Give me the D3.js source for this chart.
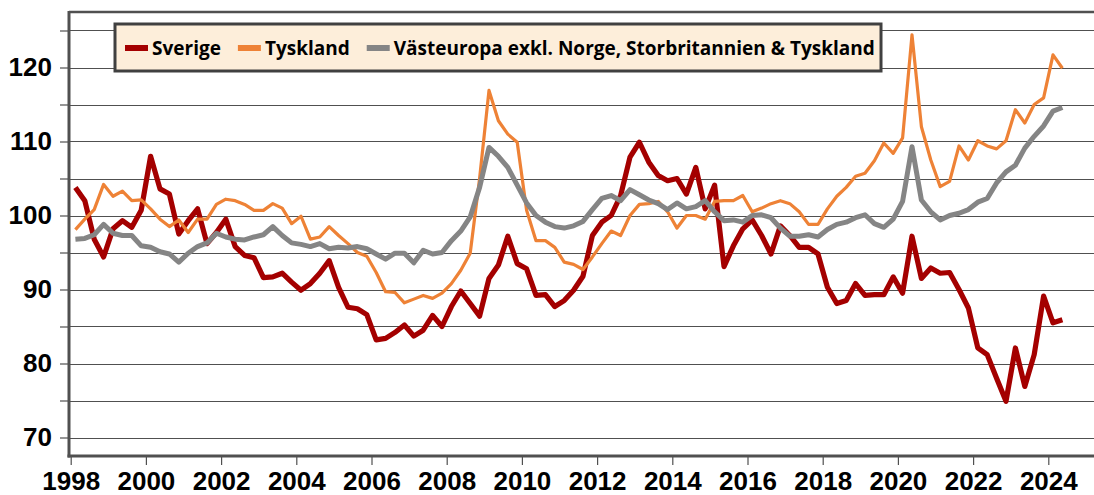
<!doctype html>
<html>

<head>
  <meta charset="UTF-8" />
  <title>Index</title>
  <style>
    html,
    body {
      margin: 0;
      background: #fff;
    }

    svg {
      font-family: "Open Sans", sans-serif;
      font-weight: bold;
    }

    .grid line {
      stroke: #505050;
      stroke-width: 1.2px;
    }

    .axis text {
      font-size: 26px;
      font-weight: bold;
      fill: #000;
    }

    .axis .tick line {
      stroke: #505050;
      stroke-width: 1.2px;
    }

    .series {
      fill: none;
      stroke-linejoin: round;
      stroke-linecap: butt;
    }

    .legend text {
      font-size: 19px;
      fill: #000;
      dominant-baseline: central;
    }
  </style>
</head>

<body>
  <script src="https://d3js.org/d3.v7.min.js"></script>
  <script>
    // data: quarterly, 1998 Q1 - 2024 Q2
    const firstYear = 1998;

    const sverige = [
      103.8, 102.0, 96.8, 94.4, 98.2, 99.3, 98.4, 100.7, 108.0, 103.6, 102.9, 97.5, 99.3, 100.9, 96.2, 97.7,
      99.5, 95.8, 94.6, 94.3, 91.6, 91.7, 92.2, 91.0, 89.9, 90.8, 92.2, 93.9, 90.3, 87.6, 87.4, 86.6,
      83.2, 83.4, 84.2, 85.2, 83.7, 84.5, 86.5, 85.0, 87.7, 89.8, 88.1, 86.4, 91.5, 93.3, 97.2, 93.5,
      92.8, 89.2, 89.3, 87.7, 88.5, 89.9, 91.8, 97.3, 99.1, 100.0, 102.7, 107.9, 109.9, 107.2, 105.4, 104.7,
      105.0, 102.9, 106.5, 100.9, 104.1, 93.1, 95.9, 98.2, 99.4, 97.3, 94.8, 98.6, 97.3, 95.7, 95.7, 94.8,
      90.3, 88.1, 88.5, 90.8, 89.2, 89.3, 89.3, 91.7, 89.5, 97.2, 91.5, 92.9, 92.2, 92.3, 90.0, 87.5,
      82.1, 81.2, 78.0, 74.9, 82.1, 76.9, 81.2, 89.1, 85.5, 85.9
    ];

    const tyskland = [
      98.1, 99.5, 100.8, 104.2, 102.6, 103.3, 102.0, 102.1, 100.9, 99.5, 98.5, 99.4, 97.7, 99.5, 99.5, 101.5,
      102.2, 102.0, 101.5, 100.7, 100.7, 101.6, 101.0, 98.9, 99.9, 96.8, 97.1, 98.5, 97.3, 96.2, 95.0, 94.5,
      92.3, 89.7, 89.6, 88.2, 88.7, 89.2, 88.8, 89.5, 90.8, 92.6, 94.9, 105.0, 116.9, 112.8, 111.0, 109.9,
      100.7, 96.6, 96.6, 95.7, 93.7, 93.4, 92.7, 94.4, 96.2, 97.9, 97.3, 100.0, 101.5, 101.6, 101.9, 100.5,
      98.3, 100.0, 100.0, 99.5, 101.9, 102.0, 102.0, 102.7, 100.5, 101.0, 101.6, 102.0, 101.6, 100.5, 98.8, 98.8,
      100.9, 102.6, 103.8, 105.3, 105.7, 107.4, 109.8, 108.4, 110.5, 124.4, 112.0, 107.5, 103.9, 104.6, 109.4, 107.5,
      110.1, 109.4, 109.0, 110.1, 114.3, 112.5, 115.0, 115.9, 121.7, 119.9
    ];

    const vasteuropa = [
      96.8, 96.9, 97.4, 98.8, 97.6, 97.3, 97.3, 95.9, 95.7, 95.1, 94.8, 93.7, 94.9, 95.8, 96.3, 97.6,
      97.1, 96.8, 96.7, 97.1, 97.4, 98.5, 97.3, 96.3, 96.1, 95.8, 96.2, 95.5, 95.7, 95.6, 95.8, 95.5,
      94.8, 94.1, 94.9, 94.9, 93.6, 95.3, 94.8, 95.0, 96.6, 97.9, 99.8, 103.8, 109.2, 108.0, 106.5, 104.1,
      101.7, 100.0, 99.1, 98.5, 98.3, 98.6, 99.2, 100.8, 102.3, 102.7, 102.0, 103.5, 102.8, 102.1, 101.6, 100.8,
      101.7, 100.9, 101.2, 102.0, 100.5, 99.3, 99.4, 99.1, 100.0, 100.1, 99.7, 98.3, 97.2, 97.2, 97.4, 97.1,
      98.1, 98.8, 99.1, 99.7, 100.1, 98.9, 98.4, 99.5, 101.9, 109.3, 102.1, 100.5, 99.4, 100.0, 100.3, 100.8,
      101.8, 102.3, 104.4, 105.9, 106.8, 109.1, 110.7, 112.1, 114.1, 114.6
    ];

    const seriesNames = ['Sverige', 'Tyskland', 'Västeuropa exkl. Norge, Storbritannien & Tyskland'];
    const seriesColors = ['#a40000', '#ee8236', '#858585'];
    const seriesWidths = [5.2, 3.2, 5];
    const yTicks = [70, 75, 80, 85, 90, 95, 100, 105, 110, 115, 120, 125];
    const xTicks = [1998, 2000, 2002, 2004, 2006, 2008, 2010, 2012, 2014, 2016, 2018, 2020, 2022, 2024];

    // quarter midpoints as decimal years
    const quarters = sverige.map((_, i) => firstYear + Math.floor(i / 4) + (i % 4) * 0.25 + 0.125);

    // view
    const width = 1094,
      height = 495,
      plotLeft = 69,
      plotTop = 12,
      plotBottom = 456;

    const x = d3.scaleLinear()
      .domain([1998, 2026])
      .range([70.7, 70.7 + 28 * 37.6]);

    const y = d3.scaleLinear()
      .domain([67.5, 127.5])
      .range([plotBottom, plotTop]);

    const svg = d3.select('body').append('svg')
      .attr('width', width)
      .attr('height', height);

    // gridlines
    svg.append('g').attr('class', 'grid')
      .selectAll('line')
      .data(yTicks)
      .join('line')
      .attr('x1', plotLeft)
      .attr('x2', width)
      .attr('y1', d => Math.round(y(d)) + 0.5)
      .attr('y2', d => Math.round(y(d)) + 0.5);

    // top border
    svg.append('line')
      .attr('x1', plotLeft).attr('x2', width)
      .attr('y1', plotTop).attr('y2', plotTop)
      .attr('stroke', '#505050')
      .attr('stroke-width', 2.5);

    // axes
    const yAxis = svg.append('g').attr('class', 'axis')
      .attr('transform', `translate(${plotLeft},0)`)
      .call(d3.axisLeft(y)
        .tickValues(yTicks)
        .tickSize(9)
        .tickSizeOuter(0)
        .tickPadding(8)
        .tickFormat(d => d % 10 === 0 ? d : ''));
    yAxis.select('.domain').remove();

    const xAxis = svg.append('g').attr('class', 'axis')
      .attr('transform', `translate(0,${plotBottom})`)
      .call(d3.axisBottom(x)
        .tickValues(xTicks)
        .tickSize(9)
        .tickSizeOuter(0)
        .tickPadding(7)
        .tickFormat(d3.format('d')));
    xAxis.select('.domain').remove();

    // axis lines
    svg.append('line')
      .attr('x1', plotLeft).attr('x2', plotLeft)
      .attr('y1', plotTop - 1).attr('y2', plotBottom + 1.5)
      .attr('stroke', '#505050')
      .attr('stroke-width', 3);
    svg.append('line')
      .attr('x1', plotLeft - 1.5).attr('x2', width)
      .attr('y1', plotBottom).attr('y2', plotBottom)
      .attr('stroke', '#505050')
      .attr('stroke-width', 3);

    // series
    const line = d3.line()
      .x((d, i) => x(quarters[i]))
      .y(d => y(d));

    [sverige, tyskland, vasteuropa].forEach((values, k) => {
      svg.append('path')
        .attr('class', 'series')
        .attr('stroke', seriesColors[k])
        .attr('stroke-width', seriesWidths[k])
        .attr('d', line(values));
    });

    // legend
    const legend = svg.append('g').attr('class', 'legend');
    legend.append('rect')
      .attr('x', 115).attr('y', 24)
      .attr('width', 766).attr('height', 47)
      .attr('fill', '#fdeeda')
      .attr('stroke', '#404040')
      .attr('stroke-width', 3);

    let lx = 125;
    const ly = 48;
    seriesNames.forEach((name, k) => {
      legend.append('line')
        .attr('x1', lx).attr('x2', lx + 23)
        .attr('y1', ly).attr('y2', ly)
        .attr('stroke', seriesColors[k])
        .attr('stroke-width', 6);
      const t = legend.append('text')
        .attr('x', lx + 27)
        .attr('y', ly)
        .text(name);
      lx += 27 + t.node().getComputedTextLength() + 17;
    });
  </script>
</body>

</html>
